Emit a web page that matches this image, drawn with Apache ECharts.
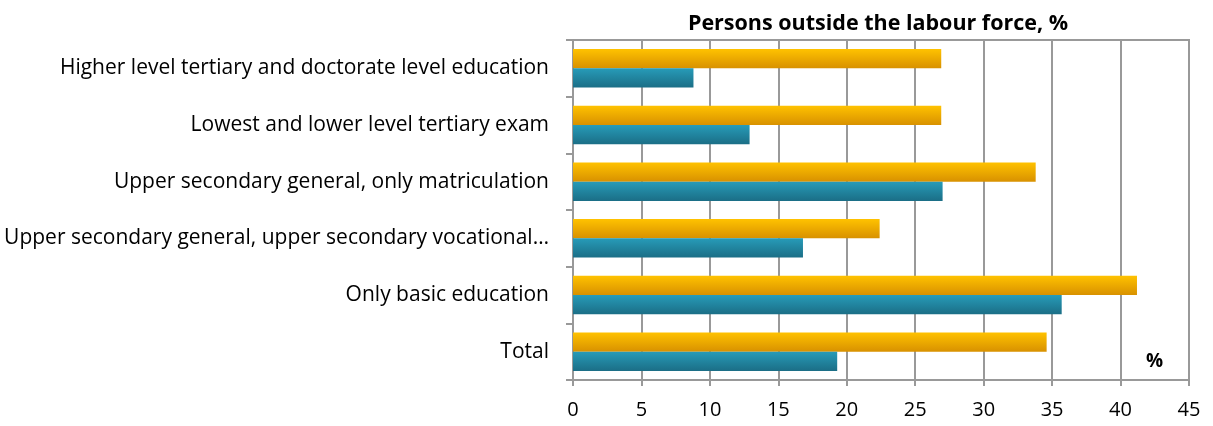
<!DOCTYPE html>
<html><head><meta charset="utf-8">
<script src="https://cdn.jsdelivr.net/npm/echarts@6/dist/echarts.min.js"></script>
<style>html,body{margin:0;padding:0;background:#fff}#c{width:1213px;height:426px}</style>
</head><body><div id="c"></div>
<script>
const categories = ["Total","Only basic education","Upper secondary general, upper secondary vocational…","Upper secondary general, only matriculation","Lowest and lower level tertiary exam","Higher level tertiary and doctorate level education"];
const orangeValues = [34.6, 41.2, 22.4, 33.8, 26.9, 26.9];
const tealValues = [19.3, 35.7, 16.8, 27.0, 12.9, 8.8];
const xTicks = [0,5,10,15,20,25,30,35,40,45];
const titleText = "Persons outside the labour force, %";
const unitText = "%";

const font = "'Open Sans', Lato, sans-serif";
const chart = echarts.init(document.getElementById('c'));
const grad = (a,b)=>new echarts.graphic.LinearGradient(0,0,0,1,[{offset:0,color:a},{offset:1,color:b}]);
chart.setOption({
  animation:false,
  title:{text:titleText,left:873,top:8,textAlign:'center',textStyle:{fontFamily:font,fontSize:21.5,fontWeight:'bold',color:'#000'}},
  grid:{left:573,right:24,top:40,bottom:46,show:true,borderColor:'#999',borderWidth:2,backgroundColor:'transparent'},
  xAxis:{type:'value',min:xTicks[0],max:xTicks[xTicks.length-1],interval:5,
    axisLine:{show:true,lineStyle:{color:'#999',width:2}},
    axisTick:{show:true,length:6,lineStyle:{color:'#999',width:2}},
    splitLine:{show:true,lineStyle:{color:'#999',width:2}},
    axisLabel:{fontFamily:font,fontSize:20,color:'#000',margin:20}},
  yAxis:{type:'category',data:categories,
    axisLine:{show:true,lineStyle:{color:'#999',width:2}},
    axisTick:{show:true,length:7,lineStyle:{color:'#999',width:2}},
    axisLabel:{fontFamily:font,fontSize:21,color:'#000',margin:24}},
  series:[
    {type:'bar',data:orangeValues,barCategoryGap:'32%',barGap:'0%',itemStyle:{color:grad('#FFC200','#D89100')}},
    {type:'bar',data:tealValues,barCategoryGap:'32%',barGap:'0%',itemStyle:{color:grad('#279BB8','#1B6E86')}}
  ],
  graphic:[{type:'text',left:1146,top:352,style:{text:unitText,font:"bold 19px "+font,fill:'#000'}}]
});
</script></body></html>
